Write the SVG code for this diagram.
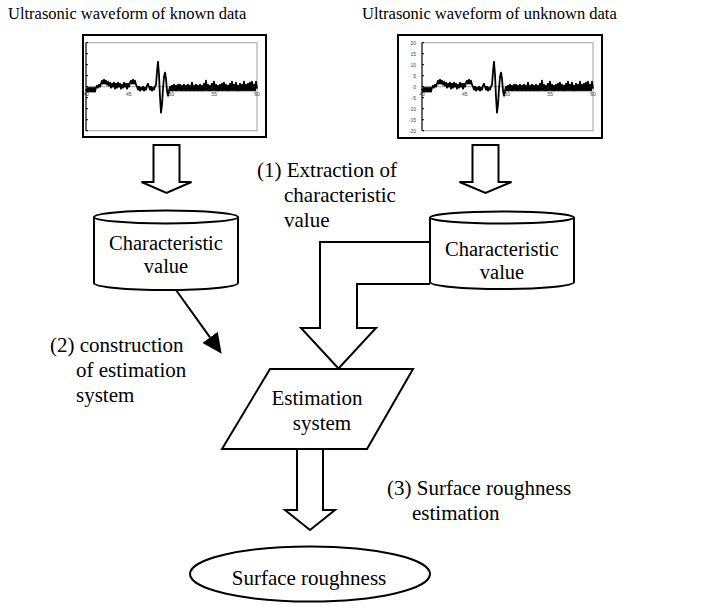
<svg xmlns="http://www.w3.org/2000/svg" xmlns:xlink="http://www.w3.org/1999/xlink" width="718" height="612" viewBox="0 0 718 612">
<style>
.t{font-family:"Liberation Serif","Times New Roman",serif;font-size:21px;fill:#000}
.tc{font-family:"Liberation Serif","Times New Roman",serif;font-size:20.5px;fill:#000}
.ttl{font-family:"Liberation Serif","Times New Roman",serif;font-size:16.5px;fill:#000}
.ax{font-family:"Liberation Sans",Arial,sans-serif;font-size:5px;fill:#444}
.frame{fill:#fff;stroke:#000;stroke-width:2}
.plot{fill:none;stroke:#a0a0a0;stroke-width:1}
.zero{stroke:#a0a0a0;stroke-width:1}
.axis{stroke:#000;stroke-width:1}
.wave{fill:none;stroke:#000;stroke-width:1.8;stroke-linejoin:round}
.shape{fill:#fff;stroke:#000;stroke-width:2;stroke-linejoin:miter}
.line{fill:none;stroke:#000;stroke-width:2}
</style>
<defs>
<path id="wave" class="wave" d="M0,2 L1,5 2,1 3,5 4,1 5,5 6,1 7,5 8,1 9,5 10,1 11,-1 12,1 13,-2 14,0 15,-3 16,-6 17,-3 18,-7 19,-3 20,-6 21,-2 22,-5 23,-1 24,-4 25,1 26,-3 27,0 28,-4 29,2 30,-3 31,1 32,-4 33,0 34,-3 35,2 36,-2 37,1 38,-4 39,0 40,-3 41,2 42,-3 43,0 44,-4 45,-6 46,-3 47,-7 48,-3 49,-6 50,-2 51,0 52,3 53,0 54,4 55,1 56,3 57,0 58,4 59,1 60,3 61,-1 62,-3 63,0 64,3 65,0 66,4 67,1 68,3 69,0 70,-2 71,-15 72,-25 73,-12 74,10 75,26 76,18 77,2 78,-10 79,-14 80,-8 81,4 82,9 83,4 84,0 85,4 86,-1 87,4 88,-2 89,4 90,-1 91,4 92,-2 93,4 94,-2 95,4 96,-1 97,4 98,-2 99,4 100,-1 101,4 102,-2 103,4 104,-1 105,4 106,-4 107,4 108,-1 109,4 110,-2 111,4 112,-1 113,4 114,-2 115,4 116,-1 117,4 118,-3 119,4 120,-6 121,4 122,-2 123,4 124,-1 125,4 126,-3 127,4 128,-5 129,4 130,-2 131,4 132,-1 133,4 134,-2 135,4 136,-3 137,4 138,-4 139,4 140,-2 141,4 142,-1 143,4 144,-3 145,4 146,-5 147,4 148,-2 149,4 150,-4 151,4 152,-1 153,4 154,-3 155,4 156,-2 157,4 158,-5 159,4 160,-2 161,4 162,-3 163,4 164,-4 165,4 166,-5 167,4 168,-2 169,4 170,-5 171,2"/>
<g id="chartbody">
<rect class="plot" x="0" y="-44" width="171" height="88"/>
<line class="zero" x1="0" y1="0" x2="171" y2="0"/>
<line class="axis" x1="0" y1="-44" x2="0" y2="44"/>
<path class="axis" d="M0,-44h2M0,-33h2M0,-22h2M0,-11h2M0,0h2M0,11h2M0,22h2M0,33h2M0,44h2"/>
<g class="ax" text-anchor="middle">
<text x="0" y="9.5">40</text><text x="42.75" y="9.5">45</text><text x="85.5" y="9.5">50</text><text x="128.25" y="9.5">55</text><text x="171" y="9.5">60</text>
</g>
<use xlink:href="#wave" href="#wave"/>
</g>
<clipPath id="clipL"><rect x="84" y="36" width="181" height="100"/></clipPath>
<marker id="ah" markerUnits="userSpaceOnUse" viewBox="0 0 20 19" refX="0" refY="9.5" markerWidth="20" markerHeight="19" orient="auto">
<path d="M0,0 L20,9.5 L0,19 Z" fill="#000"/>
</marker>
</defs>

<g id="title-known"><text class="ttl" x="8" y="19">Ultrasonic waveform of known data</text></g>
<g id="title-unknown"><text class="ttl" x="362" y="19">Ultrasonic waveform of unknown data</text></g>

<g id="chart-known">
<rect class="frame" x="83" y="35" width="183" height="102"/>
<g clip-path="url(#clipL)"><use xlink:href="#chartbody" href="#chartbody" transform="translate(86,86.7)"/></g>
</g>

<g id="chart-unknown">
<rect class="frame" x="398" y="35" width="204" height="103"/>
<use xlink:href="#chartbody" href="#chartbody" transform="translate(422,86.7)"/>
<g class="ax" text-anchor="end">
<text x="416" y="44.5">20</text><text x="416" y="55.5">15</text><text x="416" y="66.5">10</text><text x="416" y="77.5">5</text><text x="416" y="88.5">0</text><text x="416" y="99.5">-5</text><text x="416" y="110.5">-10</text><text x="416" y="121.5">-15</text><text x="416" y="132.5">-20</text>
</g>
</g>

<g id="connectors">
<path id="arrow-left" class="shape" d="M153.5,145 H179.5 V182 H191.5 L166.5,193 L141.5,182 H153.5 Z"/>
<path id="arrow-right" class="shape" d="M472.5,145 H498.5 V182 H511.5 L485.5,193 L459.5,182 H472.5 Z"/>
<path id="arrow-merge" class="shape" d="M430,242 H320 V328 H301 L338.5,368.5 L376,328 H357 V284 H430"/>
<path id="arrow-bottom" class="shape" d="M297,449 H323 V510 H335 L310,530 L285,510 H297 Z"/>
<line id="arrow-construct" class="line" x1="176" y1="290" x2="210" y2="337.4" marker-end="url(#ah)"/>
</g>

<g id="db-known">
<path class="shape" d="M94,217 V283 A72,7 0 0 0 238,283 V217"/>
<ellipse class="shape" cx="166" cy="217" rx="72" ry="6.5"/>
<text class="tc" x="166" y="250" text-anchor="middle">Characteristic</text>
<text class="tc" x="166" y="273" text-anchor="middle">value</text>
</g>

<g id="db-unknown">
<path class="shape" d="M430,217.5 V282 A72,7 0 0 0 574,282 V217.5"/>
<ellipse class="shape" cx="502" cy="217.5" rx="72" ry="6"/>
<text class="tc" x="502" y="256" text-anchor="middle">Characteristic</text>
<text class="tc" x="502" y="279" text-anchor="middle">value</text>
</g>

<g id="estimation-system">
<path class="shape" d="M270,369 H413 L367,449 H222 Z"/>
<text class="t" x="317" y="405" text-anchor="middle">Estimation</text>
<text class="t" x="322" y="430" text-anchor="middle">system</text>
</g>

<g id="surface-roughness">
<ellipse class="shape" cx="310" cy="574" rx="120" ry="27.5"/>
<text class="t" x="309" y="585" text-anchor="middle">Surface roughness</text>
</g>

<g id="label-1">
<text class="t" x="257" y="177">(1) Extraction of</text>
<text class="t" x="284" y="202">characteristic</text>
<text class="t" x="284" y="227">value</text>
</g>
<g id="label-2">
<text class="t" x="50" y="352">(2) construction</text>
<text class="t" x="76" y="377">of estimation</text>
<text class="t" x="76" y="402">system</text>
</g>
<g id="label-3">
<text class="t" x="387" y="495">(3) Surface roughness</text>
<text class="t" x="412" y="520">estimation</text>
</g>
</svg>
